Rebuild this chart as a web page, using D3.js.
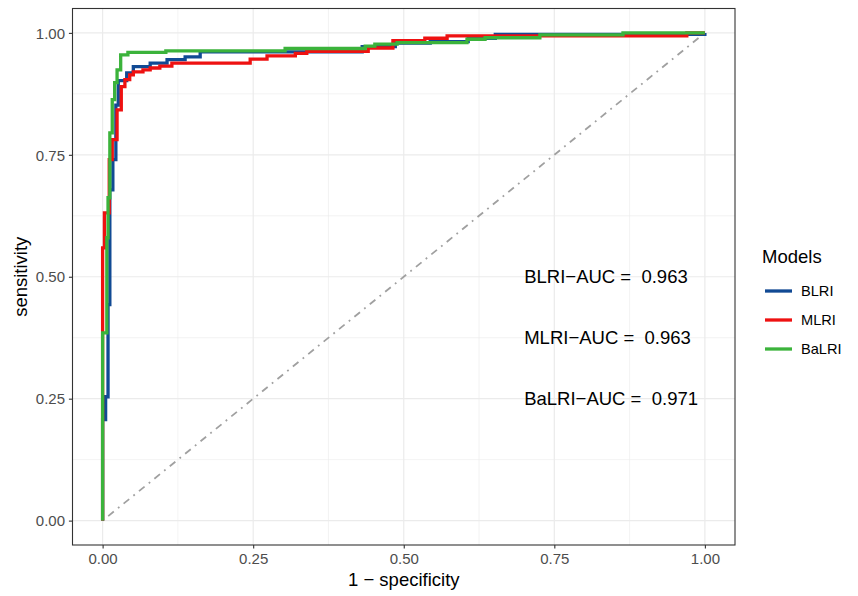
<!DOCTYPE html>
<html>
<head>
<meta charset="utf-8">
<script src="https://cdn.jsdelivr.net/npm/d3@7"></script>
<style>
  body { margin: 0; background: #fff; }
  svg text { font-family: "Liberation Sans", Arial, Helvetica, sans-serif; }
</style>
</head>
<body>
<svg id="svg1" width="858" height="596"></svg>
<script>
// ROC step points (1 - specificity, sensitivity)
const blriFpr = [0, 0.005, 0.009, 0.012, 0.017, 0.022, 0.026, 0.040, 0.051, 0.079, 0.107, 0.137, 0.162, 0.431, 0.486, 0.544, 0.607, 0.652, 1, 1];
const blriTpr = [0, 0.207, 0.254, 0.443, 0.678, 0.740, 0.852, 0.902, 0.918, 0.931, 0.938, 0.945, 0.951, 0.961, 0.972, 0.979, 0.982, 0.989, 0.997, 1];

const mlriFpr = [0, 0.003, 0.011, 0.016, 0.024, 0.031, 0.037, 0.045, 0.051, 0.067, 0.079, 0.095, 0.115, 0.245, 0.273, 0.320, 0.339, 0.441, 0.482, 0.535, 0.572, 0.970, 1];
const mlriTpr = [0, 0.559, 0.631, 0.740, 0.781, 0.842, 0.890, 0.904, 0.914, 0.920, 0.924, 0.928, 0.932, 0.938, 0.946, 0.953, 0.958, 0.962, 0.969, 0.984, 0.989, 0.994, 1];

const balriFpr = [0, 0.007, 0.009, 0.012, 0.016, 0.020, 0.024, 0.030, 0.042, 0.105, 0.303, 0.436, 0.452, 0.489, 0.605, 0.635, 0.726, 0.864, 1];
const balriTpr = [0, 0.385, 0.580, 0.662, 0.795, 0.863, 0.898, 0.924, 0.955, 0.960, 0.963, 0.968, 0.973, 0.977, 0.980, 0.987, 0.990, 0.996, 1];

const modelNames = ['BLRI', 'MLRI', 'BaLRI'];
const modelColors = ['#114A94', '#EE1111', '#3BB33B'];
const aucValues = ['0.963', '0.963', '0.971'];
const aucY = [0.5, 0.375, 0.25];
const tickValues = [0, 0.25, 0.5, 0.75, 1];
const minorValues = [0.125, 0.375, 0.625, 0.875];

const svg = d3.select('#svg1');
const margin = {left: 72.5, right: 123, top: 8.5, bottom: 51};
const W = 858, H = 596;
const innerWidth = W - margin.left - margin.right;
const innerHeight = H - margin.top - margin.bottom;

const x = d3.scaleLinear().domain([-0.05, 1.05]).range([0, innerWidth]);
const y = d3.scaleLinear().domain([-0.05, 1.05]).range([innerHeight, 0]);

const g = svg.append('g').attr('transform', `translate(${margin.left},${margin.top})`);

// grid
g.selectAll('.minx').data(minorValues).join('line')
  .attr('x1', d => x(d)).attr('x2', d => x(d)).attr('y1', 0).attr('y2', innerHeight)
  .attr('stroke', '#EBEBEB').attr('stroke-width', 0.6);
g.selectAll('.miny').data(minorValues).join('line')
  .attr('y1', d => y(d)).attr('y2', d => y(d)).attr('x1', 0).attr('x2', innerWidth)
  .attr('stroke', '#EBEBEB').attr('stroke-width', 0.6);
g.selectAll('.majx').data(tickValues).join('line')
  .attr('x1', d => x(d)).attr('x2', d => x(d)).attr('y1', 0).attr('y2', innerHeight)
  .attr('stroke', '#EBEBEB').attr('stroke-width', 1.2);
g.selectAll('.majy').data(tickValues).join('line')
  .attr('y1', d => y(d)).attr('y2', d => y(d)).attr('x1', 0).attr('x2', innerWidth)
  .attr('stroke', '#EBEBEB').attr('stroke-width', 1.2);

// diagonal reference
g.append('line')
  .attr('x1', x(0)).attr('y1', y(0)).attr('x2', x(1)).attr('y2', y(1))
  .attr('stroke', '#A0A0A0').attr('stroke-width', 1.8)
  .attr('stroke-dasharray', '1.8,5.4,7.2,5.4');

// ROC curves
const series = [
  {fpr: blriFpr, tpr: blriTpr},
  {fpr: mlriFpr, tpr: mlriTpr},
  {fpr: balriFpr, tpr: balriTpr}
];
const line = d3.line()
  .x(d => x(d[0])).y(d => y(d[1]))
  .curve(d3.curveStepBefore);

series.forEach((s, i) => {
  const pts = s.fpr.map((f, j) => [f, s.tpr[j]]);
  g.append('path')
    .attr('d', line(pts))
    .attr('fill', 'none')
    .attr('stroke', modelColors[i])
    .attr('stroke-width', 3.3)
    .attr('stroke-linejoin', 'miter');
});

// AUC annotations
g.selectAll('.auc').data(modelNames).join('text')
  .attr('x', x(0.7)).attr('y', (d, i) => y(aucY[i]) + 6.5)
  .attr('font-size', '18.5px').attr('fill', '#000')
  .attr('xml:space', 'preserve')
  .style('white-space', 'pre')
  .text((d, i) => `${d}\u2212AUC =  ${aucValues[i]}`);

// panel border
g.append('rect').attr('width', innerWidth).attr('height', innerHeight)
  .attr('fill', 'none').attr('stroke', '#333333').attr('stroke-width', 1.1);

// axes
const xAxis = g.append('g').attr('transform', `translate(0,${innerHeight})`)
  .call(d3.axisBottom(x).tickValues(tickValues).tickFormat(d3.format('.2f')).tickSize(3.6));
const yAxis = g.append('g')
  .call(d3.axisLeft(y).tickValues(tickValues).tickFormat(d3.format('.2f')).tickSize(3.6));
[xAxis, yAxis].forEach(a => {
  a.select('.domain').remove();
  a.selectAll('.tick line').attr('stroke', '#333333').attr('stroke-width', 1.1);
  a.selectAll('.tick text').attr('fill', '#4D4D4D').attr('font-size', '15px')
    .attr('dy', null)
    .style('font-family', '"Liberation Sans", Arial, sans-serif');
});
xAxis.selectAll('.tick text').attr('y', 19);
yAxis.selectAll('.tick text').attr('x', -7.5).attr('y', 5.2);

// axis titles
svg.append('text')
  .attr('x', margin.left + innerWidth / 2).attr('y', 586)
  .attr('text-anchor', 'middle').attr('font-size', '18.5px').attr('fill', '#000')
  .text('1 \u2212 specificity');
svg.append('text')
  .attr('transform', `translate(27,${margin.top + innerHeight / 2}) rotate(-90)`)
  .attr('text-anchor', 'middle').attr('font-size', '18.5px').attr('fill', '#000')
  .text('sensitivity');

// legend
const legend = svg.append('g').attr('transform', 'translate(762,0)');
legend.append('text').attr('x', 0).attr('y', 263)
  .attr('font-size', '18.5px').attr('fill', '#000').text('Models');
modelNames.forEach((name, i) => {
  const ly = 291 + i * 29;
  legend.append('line').attr('x1', 3).attr('x2', 30).attr('y1', ly).attr('y2', ly)
    .attr('stroke', modelColors[i]).attr('stroke-width', 3.3);
  legend.append('text').attr('x', 39).attr('y', ly + 5.2)
    .attr('font-size', '14.6px').attr('fill', '#000').text(name);
});
</script>
</body>
</html>
